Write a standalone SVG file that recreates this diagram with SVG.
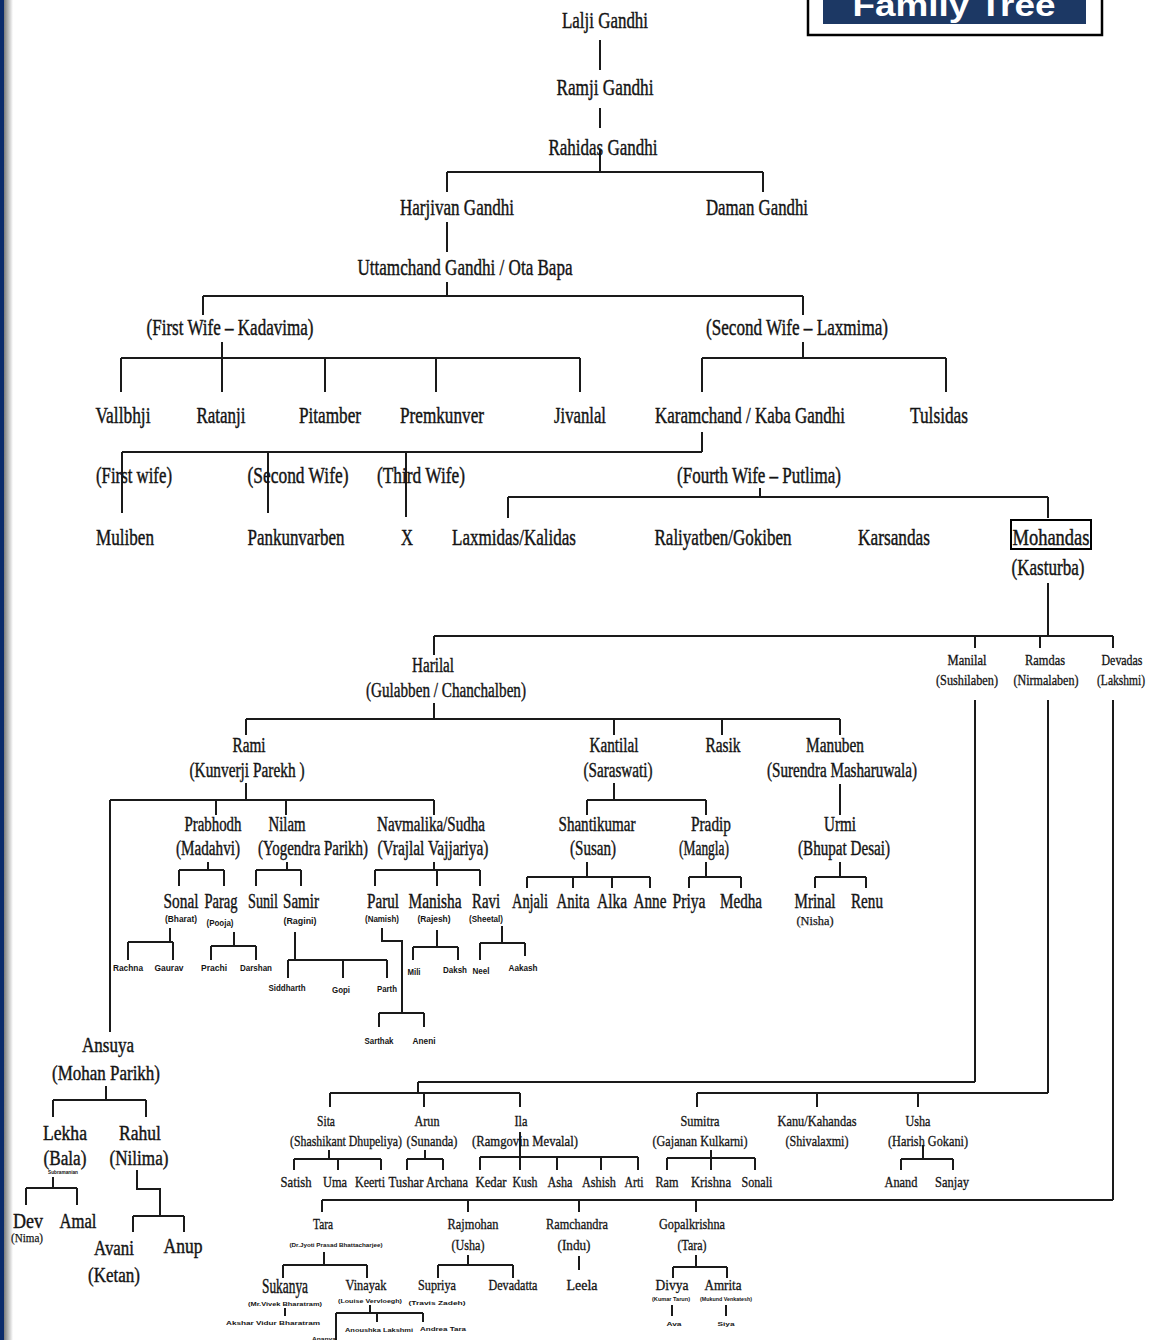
<svg xmlns="http://www.w3.org/2000/svg" width="1151" height="1340" viewBox="0 0 1151 1340">
<defs>
<linearGradient id="sh" x1="0" y1="0" x2="1" y2="0"><stop offset="0" stop-color="#7a7a7a"/><stop offset="1" stop-color="#ffffff"/></linearGradient>
</defs>
<style>
text{font-family:"Liberation Serif","Times New Roman",serif;fill:#141414;text-anchor:middle}
.t1{font-size:24px;stroke:#141414;stroke-width:0.45}
.t2{font-size:20px;stroke:#141414;stroke-width:0.4}
.t3{font-size:15px;stroke:#141414;stroke-width:0.3}
.t4{font-size:13px;stroke:#141414;stroke-width:0.25}
.s{font-family:"Liberation Sans",Arial,sans-serif;font-weight:bold;font-size:9px}
.xs{font-family:"Liberation Sans",Arial,sans-serif;font-weight:bold;font-size:6px}
.ln path{fill:none;stroke:#1a1a1a;stroke-width:2}
.title{font-family:"Liberation Sans",Arial,sans-serif;font-weight:bold;font-size:32px;fill:#ffffff}
</style>
<rect width="1151" height="1340" fill="#ffffff"/>
<rect x="0" y="0" width="4" height="1340" fill="#0b2a6a"/>
<rect x="4" y="0" width="9" height="1340" fill="url(#sh)"/>
<g id="title">
<rect x="808" y="-10" width="294" height="45" fill="#ffffff" stroke="#000" stroke-width="2.5"/>
<rect x="823" y="-6" width="263" height="30" fill="#1c3864"/>
<text class="title" x="954" y="16" textLength="203" lengthAdjust="spacingAndGlyphs">Family Tree</text>
</g>
<g id="connectors" class="ln">
<path d="M600 40V70M600 108V128M600 150V172M447 172H763M447 172V192M763 172V192M447 222V252M447 282V296M203 296H803M203 296V315M803 296V315"/>
<path d="M222 342V358M121 358H580M121 358V392M222 358V392M325 358V392M436 358V392M580 358V392M803 342V358M702 358H946M702 358V392M946 358V392"/>
<path d="M702 432V452M122 452H702M122 452V513M268 452V513M406 452V517M760 488V497M508 497H1048M508 497V518M1048 497V518"/>
<path d="M1048 583V636M434 636H1113M434 636V655M975 636V648M1040 636V648M1113 636V648M975 700V1082M1048 700V1093M1113 700V1200"/>
<path d="M434 703V719M246 719H840M246 719V735M614 719V735M722 719V735M840 719V735M246 783V800M110 800H434M110 800V1032M216 800V815M286 800V815M434 800V815M614 783V800M587 800H706M587 800V815M706 800V815M840 784V815"/>
<path d="M208 862V870M179 870H224M179 870V886M224 870V886M287 862V870M256 870H301M256 870V886M301 870V886M434 862V870M375 870H480M375 870V886M437 870V886M480 870V886"/>
<path d="M587 862V877M527 877H650M527 877V888M573 877V888M612 877V888M650 877V888M706 862V877M689 877H741M689 877V888M741 877V888M840 862V877M815 877H866M815 877V888M866 877V888"/>
<path d="M170 928V942M128 942H173M128 942V960M173 942V960M234 932V946M211 946H256M211 946V960M256 946V960M295 932V960M288 960H387M288 960V978M343 960V978M387 960V978"/>
<path d="M382 928V941H402V1013M379 1013H424M379 1013V1027M424 1013V1027M437 930V947M413 947H458M413 947V960M458 947V960M502 926V943M480 943H525M480 943V960M525 943V956"/>
<path d="M106 1086V1100M53 1100H146M53 1100V1117M146 1100V1117M53 1177V1188M26 1188H77M26 1188V1205M77 1188V1205M137 1170V1189H160V1216M133 1216H184M133 1216V1232M184 1216V1232"/>
<path d="M418 1082H975M418 1082V1093M330 1093H520M330 1093V1107M424 1093V1107M520 1093V1107M329 1150V1159M294 1159H381M294 1159V1170M338 1159V1170M381 1159V1170M425 1150V1159M407 1159H443M407 1159V1170M443 1159V1170M520 1132V1157M480 1157H638M480 1157V1170M520 1157V1170M557 1157V1170M601 1157V1170M638 1157V1170"/>
<path d="M697 1093H1048M697 1093V1107M817 1093V1107M918 1093V1107M711 1150V1158M667 1158H755M667 1158V1170M711 1158V1170M755 1158V1170M923 1145V1159M901 1159H953M901 1159V1170M953 1159V1170"/>
<path d="M322 1200H1113M322 1200V1212M468 1200V1212M579 1200V1212M696 1200V1212M324 1252V1265M283 1265H367M283 1265V1278M367 1265V1278M468 1255V1265M438 1265H513M438 1265V1278M513 1265V1278M579 1256V1270M696 1255V1267M673 1267H727M673 1267V1278M727 1267V1278"/>
<path d="M285 1308V1316M370 1305V1313M336 1313H423M336 1313V1340M377 1313V1322M423 1313V1322M672 1305V1316M726 1305V1316"/>
</g>
<g id="n-lalji"><text class="t1" x="605" y="28" textLength="86" lengthAdjust="spacingAndGlyphs">Lalji Gandhi</text></g>
<g id="n-ramji"><text class="t1" x="605" y="95" textLength="97" lengthAdjust="spacingAndGlyphs">Ramji Gandhi</text></g>
<g id="n-rahidas"><text class="t1" x="603" y="155" textLength="109" lengthAdjust="spacingAndGlyphs">Rahidas Gandhi</text></g>
<g id="n-harjivan"><text class="t1" x="457" y="215" textLength="114" lengthAdjust="spacingAndGlyphs">Harjivan Gandhi</text></g>
<g id="n-daman"><text class="t1" x="757" y="215" textLength="102" lengthAdjust="spacingAndGlyphs">Daman Gandhi</text></g>
<g id="n-uttamchand"><text class="t1" x="465" y="275" textLength="215" lengthAdjust="spacingAndGlyphs">Uttamchand Gandhi / Ota Bapa</text></g>
<g id="n-kadavima"><text class="t1" x="230" y="335" textLength="167" lengthAdjust="spacingAndGlyphs">(First Wife – Kadavima)</text></g>
<g id="n-laxmima"><text class="t1" x="797" y="335" textLength="182" lengthAdjust="spacingAndGlyphs">(Second Wife – Laxmima)</text></g>
<g id="n-vallbhji"><text class="t1" x="123" y="423" textLength="55" lengthAdjust="spacingAndGlyphs">Vallbhji</text></g>
<g id="n-ratanji"><text class="t1" x="221" y="423" textLength="49" lengthAdjust="spacingAndGlyphs">Ratanji</text></g>
<g id="n-pitamber"><text class="t1" x="330" y="423" textLength="62" lengthAdjust="spacingAndGlyphs">Pitamber</text></g>
<g id="n-premkunver"><text class="t1" x="442" y="423" textLength="84" lengthAdjust="spacingAndGlyphs">Premkunver</text></g>
<g id="n-jivanlal"><text class="t1" x="580" y="423" textLength="52" lengthAdjust="spacingAndGlyphs">Jivanlal</text></g>
<g id="n-karamchand"><text class="t1" x="750" y="423" textLength="190" lengthAdjust="spacingAndGlyphs">Karamchand / Kaba Gandhi</text></g>
<g id="n-tulsidas"><text class="t1" x="939" y="423" textLength="58" lengthAdjust="spacingAndGlyphs">Tulsidas</text></g>
<g id="n-wife1"><text class="t1" x="134" y="483" textLength="76" lengthAdjust="spacingAndGlyphs">(First wife)</text></g>
<g id="n-wife2"><text class="t1" x="298" y="483" textLength="101" lengthAdjust="spacingAndGlyphs">(Second Wife)</text></g>
<g id="n-wife3"><text class="t1" x="421" y="483" textLength="88" lengthAdjust="spacingAndGlyphs">(Third Wife)</text></g>
<g id="n-putlima"><text class="t1" x="759" y="483" textLength="164" lengthAdjust="spacingAndGlyphs">(Fourth Wife – Putlima)</text></g>
<g id="n-muliben"><text class="t1" x="125" y="545" textLength="58" lengthAdjust="spacingAndGlyphs">Muliben</text></g>
<g id="n-pankunvarben"><text class="t1" x="296" y="545" textLength="97" lengthAdjust="spacingAndGlyphs">Pankunvarben</text></g>
<g id="n-x"><text class="t1" x="407" y="545" textLength="12" lengthAdjust="spacingAndGlyphs">X</text></g>
<g id="n-laxmidas"><text class="t1" x="514" y="545" textLength="124" lengthAdjust="spacingAndGlyphs">Laxmidas/Kalidas</text></g>
<g id="n-raliyatben"><text class="t1" x="723" y="545" textLength="137" lengthAdjust="spacingAndGlyphs">Raliyatben/Gokiben</text></g>
<g id="n-karsandas"><text class="t1" x="894" y="545" textLength="72" lengthAdjust="spacingAndGlyphs">Karsandas</text></g>
<g id="n-mohandas"><rect x="1011" y="520" width="80" height="29" fill="none" stroke="#000" stroke-width="2"/><text class="t1" x="1051" y="545" textLength="77" lengthAdjust="spacingAndGlyphs">Mohandas</text><text class="t1" x="1048" y="575" textLength="73" lengthAdjust="spacingAndGlyphs">(Kasturba)</text></g>
<g id="n-harilal"><text class="t2" x="433" y="672" textLength="42" lengthAdjust="spacingAndGlyphs">Harilal</text><text class="t2" x="446" y="697" textLength="160" lengthAdjust="spacingAndGlyphs">(Gulabben / Chanchalben)</text></g>
<g id="n-manilal"><text class="t3" x="967" y="665" textLength="39" lengthAdjust="spacingAndGlyphs">Manilal</text><text class="t3" x="967" y="685" textLength="62" lengthAdjust="spacingAndGlyphs">(Sushilaben)</text></g>
<g id="n-ramdas"><text class="t3" x="1045" y="665" textLength="40" lengthAdjust="spacingAndGlyphs">Ramdas</text><text class="t3" x="1046" y="685" textLength="65" lengthAdjust="spacingAndGlyphs">(Nirmalaben)</text></g>
<g id="n-devadas"><text class="t3" x="1122" y="665" textLength="41" lengthAdjust="spacingAndGlyphs">Devadas</text><text class="t3" x="1121" y="685" textLength="48" lengthAdjust="spacingAndGlyphs">(Lakshmi)</text></g>
<g id="n-rami"><text class="t2" x="249" y="752" textLength="33" lengthAdjust="spacingAndGlyphs">Rami</text><text class="t2" x="247" y="777" textLength="115" lengthAdjust="spacingAndGlyphs">(Kunverji Parekh )</text></g>
<g id="n-kantilal"><text class="t2" x="614" y="752" textLength="49" lengthAdjust="spacingAndGlyphs">Kantilal</text><text class="t2" x="618" y="777" textLength="69" lengthAdjust="spacingAndGlyphs">(Saraswati)</text></g>
<g id="n-rasik"><text class="t2" x="723" y="752" textLength="35" lengthAdjust="spacingAndGlyphs">Rasik</text></g>
<g id="n-manuben"><text class="t2" x="835" y="752" textLength="58" lengthAdjust="spacingAndGlyphs">Manuben</text><text class="t2" x="842" y="777" textLength="150" lengthAdjust="spacingAndGlyphs">(Surendra Masharuwala)</text></g>
<g id="n-prabhodh"><text class="t2" x="213" y="831" textLength="57" lengthAdjust="spacingAndGlyphs">Prabhodh</text><text class="t2" x="208" y="855" textLength="64" lengthAdjust="spacingAndGlyphs">(Madahvi)</text></g>
<g id="n-nilam"><text class="t2" x="287" y="831" textLength="37" lengthAdjust="spacingAndGlyphs">Nilam</text><text class="t2" x="313" y="855" textLength="110" lengthAdjust="spacingAndGlyphs">(Yogendra Parikh)</text></g>
<g id="n-navmalika"><text class="t2" x="431" y="831" textLength="108" lengthAdjust="spacingAndGlyphs">Navmalika/Sudha</text><text class="t2" x="433" y="855" textLength="111" lengthAdjust="spacingAndGlyphs">(Vrajlal Vajjariya)</text></g>
<g id="n-shantikumar"><text class="t2" x="597" y="831" textLength="77" lengthAdjust="spacingAndGlyphs">Shantikumar</text><text class="t2" x="593" y="855" textLength="46" lengthAdjust="spacingAndGlyphs">(Susan)</text></g>
<g id="n-pradip"><text class="t2" x="711" y="831" textLength="40" lengthAdjust="spacingAndGlyphs">Pradip</text><text class="t2" x="704" y="855" textLength="50" lengthAdjust="spacingAndGlyphs">(Mangla)</text></g>
<g id="n-urmi"><text class="t2" x="840" y="831" textLength="32" lengthAdjust="spacingAndGlyphs">Urmi</text><text class="t2" x="844" y="855" textLength="92" lengthAdjust="spacingAndGlyphs">(Bhupat Desai)</text></g>
<g id="n-sonal"><text class="t2" x="181" y="908" textLength="35" lengthAdjust="spacingAndGlyphs">Sonal</text><text class="s" x="181" y="922" textLength="32" lengthAdjust="spacingAndGlyphs">(Bharat)</text></g>
<g id="n-parag"><text class="t2" x="221" y="908" textLength="33" lengthAdjust="spacingAndGlyphs">Parag</text><text class="s" x="220" y="926" textLength="27" lengthAdjust="spacingAndGlyphs">(Pooja)</text></g>
<g id="n-sunil"><text class="t2" x="263" y="908" textLength="30" lengthAdjust="spacingAndGlyphs">Sunil</text></g>
<g id="n-samir"><text class="t2" x="301" y="908" textLength="36" lengthAdjust="spacingAndGlyphs">Samir</text><text class="s" x="300" y="924" textLength="33" lengthAdjust="spacingAndGlyphs">(Ragini)</text></g>
<g id="n-parul"><text class="t2" x="383" y="908" textLength="32" lengthAdjust="spacingAndGlyphs">Parul</text><text class="s" x="382" y="922" textLength="34" lengthAdjust="spacingAndGlyphs">(Namish)</text></g>
<g id="n-manisha"><text class="t2" x="435" y="908" textLength="53" lengthAdjust="spacingAndGlyphs">Manisha</text><text class="s" x="434" y="922" textLength="33" lengthAdjust="spacingAndGlyphs">(Rajesh)</text></g>
<g id="n-ravi"><text class="t2" x="486" y="908" textLength="28" lengthAdjust="spacingAndGlyphs">Ravi</text><text class="s" x="486" y="922" textLength="34" lengthAdjust="spacingAndGlyphs">(Sheetal)</text></g>
<g id="n-anjali"><text class="t2" x="530" y="908" textLength="36" lengthAdjust="spacingAndGlyphs">Anjali</text></g>
<g id="n-anita"><text class="t2" x="573" y="908" textLength="33" lengthAdjust="spacingAndGlyphs">Anita</text></g>
<g id="n-alka"><text class="t2" x="612" y="908" textLength="30" lengthAdjust="spacingAndGlyphs">Alka</text></g>
<g id="n-anne"><text class="t2" x="650" y="908" textLength="33" lengthAdjust="spacingAndGlyphs">Anne</text></g>
<g id="n-priya"><text class="t2" x="689" y="908" textLength="33" lengthAdjust="spacingAndGlyphs">Priya</text></g>
<g id="n-medha"><text class="t2" x="741" y="908" textLength="42" lengthAdjust="spacingAndGlyphs">Medha</text></g>
<g id="n-mrinal"><text class="t2" x="815" y="908" textLength="41" lengthAdjust="spacingAndGlyphs">Mrinal</text><text class="t4" x="815" y="925" textLength="37" lengthAdjust="spacingAndGlyphs">(Nisha)</text></g>
<g id="n-renu"><text class="t2" x="867" y="908" textLength="32" lengthAdjust="spacingAndGlyphs">Renu</text></g>
<g id="n-rachna"><text class="s" x="128" y="971" textLength="30" lengthAdjust="spacingAndGlyphs">Rachna</text></g>
<g id="n-gaurav"><text class="s" x="169" y="971" textLength="29" lengthAdjust="spacingAndGlyphs">Gaurav</text></g>
<g id="n-prachi"><text class="s" x="214" y="971" textLength="26" lengthAdjust="spacingAndGlyphs">Prachi</text></g>
<g id="n-darshan"><text class="s" x="256" y="971" textLength="32" lengthAdjust="spacingAndGlyphs">Darshan</text></g>
<g id="n-siddharth"><text class="s" x="287" y="991" textLength="37" lengthAdjust="spacingAndGlyphs">Siddharth</text></g>
<g id="n-gopi"><text class="s" x="341" y="993" textLength="18" lengthAdjust="spacingAndGlyphs">Gopi</text></g>
<g id="n-parth"><text class="s" x="387" y="992" textLength="20" lengthAdjust="spacingAndGlyphs">Parth</text></g>
<g id="n-mili"><text class="s" x="414" y="975" textLength="13" lengthAdjust="spacingAndGlyphs">Mili</text></g>
<g id="n-daksh"><text class="s" x="455" y="973" textLength="24" lengthAdjust="spacingAndGlyphs">Daksh</text></g>
<g id="n-neel"><text class="s" x="481" y="974" textLength="17" lengthAdjust="spacingAndGlyphs">Neel</text></g>
<g id="n-aakash"><text class="s" x="523" y="971" textLength="29" lengthAdjust="spacingAndGlyphs">Aakash</text></g>
<g id="n-sarthak"><text class="s" x="379" y="1044" textLength="29" lengthAdjust="spacingAndGlyphs">Sarthak</text></g>
<g id="n-aneni"><text class="s" x="424" y="1044" textLength="23" lengthAdjust="spacingAndGlyphs">Aneni</text></g>
<g id="n-ansuya"><text class="t2" x="108" y="1052" textLength="52" lengthAdjust="spacingAndGlyphs">Ansuya</text><text class="t2" x="106" y="1080" textLength="108" lengthAdjust="spacingAndGlyphs">(Mohan Parikh)</text></g>
<g id="n-lekha"><text class="t2" x="65" y="1140" textLength="44" lengthAdjust="spacingAndGlyphs">Lekha</text><text class="t2" x="65" y="1165" textLength="43" lengthAdjust="spacingAndGlyphs">(Bala)</text><text class="xs" x="63" y="1174" textLength="30" lengthAdjust="spacingAndGlyphs">Subramanian</text></g>
<g id="n-rahul"><text class="t2" x="140" y="1140" textLength="42" lengthAdjust="spacingAndGlyphs">Rahul</text><text class="t2" x="139" y="1165" textLength="59" lengthAdjust="spacingAndGlyphs">(Nilima)</text></g>
<g id="n-dev"><text class="t2" x="28" y="1228" textLength="30" lengthAdjust="spacingAndGlyphs">Dev</text><text class="t4" x="27" y="1242" textLength="32" lengthAdjust="spacingAndGlyphs">(Nima)</text></g>
<g id="n-amal"><text class="t2" x="78" y="1228" textLength="37" lengthAdjust="spacingAndGlyphs">Amal</text></g>
<g id="n-avani"><text class="t2" x="114" y="1255" textLength="40" lengthAdjust="spacingAndGlyphs">Avani</text><text class="t2" x="114" y="1282" textLength="52" lengthAdjust="spacingAndGlyphs">(Ketan)</text></g>
<g id="n-anup"><text class="t2" x="183" y="1253" textLength="39" lengthAdjust="spacingAndGlyphs">Anup</text></g>
<g id="n-sita"><text class="t3" x="326" y="1126" textLength="18" lengthAdjust="spacingAndGlyphs">Sita</text><text class="t3" x="346" y="1146" textLength="112" lengthAdjust="spacingAndGlyphs">(Shashikant Dhupeliya)</text></g>
<g id="n-arun"><text class="t3" x="427" y="1126" textLength="25" lengthAdjust="spacingAndGlyphs">Arun</text><text class="t3" x="432" y="1146" textLength="51" lengthAdjust="spacingAndGlyphs">(Sunanda)</text></g>
<g id="n-ila"><text class="t3" x="521" y="1126" textLength="13" lengthAdjust="spacingAndGlyphs">Ila</text><text class="t3" x="525" y="1146" textLength="106" lengthAdjust="spacingAndGlyphs">(Ramgovin Mevalal)</text></g>
<g id="n-sumitra"><text class="t3" x="700" y="1126" textLength="39" lengthAdjust="spacingAndGlyphs">Sumitra</text><text class="t3" x="700" y="1146" textLength="95" lengthAdjust="spacingAndGlyphs">(Gajanan Kulkarni)</text></g>
<g id="n-kanu"><text class="t3" x="817" y="1126" textLength="79" lengthAdjust="spacingAndGlyphs">Kanu/Kahandas</text><text class="t3" x="817" y="1146" textLength="63" lengthAdjust="spacingAndGlyphs">(Shivalaxmi)</text></g>
<g id="n-usha"><text class="t3" x="918" y="1126" textLength="25" lengthAdjust="spacingAndGlyphs">Usha</text><text class="t3" x="928" y="1146" textLength="80" lengthAdjust="spacingAndGlyphs">(Harish Gokani)</text></g>
<g id="n-satish"><text class="t3" x="296" y="1187" textLength="31" lengthAdjust="spacingAndGlyphs">Satish</text></g>
<g id="n-uma"><text class="t3" x="335" y="1187" textLength="24" lengthAdjust="spacingAndGlyphs">Uma</text></g>
<g id="n-keerti"><text class="t3" x="370" y="1187" textLength="30" lengthAdjust="spacingAndGlyphs">Keerti</text></g>
<g id="n-tushar"><text class="t3" x="406" y="1187" textLength="35" lengthAdjust="spacingAndGlyphs">Tushar</text></g>
<g id="n-archana"><text class="t3" x="447" y="1187" textLength="42" lengthAdjust="spacingAndGlyphs">Archana</text></g>
<g id="n-kedar"><text class="t3" x="491" y="1187" textLength="31" lengthAdjust="spacingAndGlyphs">Kedar</text></g>
<g id="n-kush"><text class="t3" x="525" y="1187" textLength="25" lengthAdjust="spacingAndGlyphs">Kush</text></g>
<g id="n-asha"><text class="t3" x="560" y="1187" textLength="25" lengthAdjust="spacingAndGlyphs">Asha</text></g>
<g id="n-ashish"><text class="t3" x="599" y="1187" textLength="34" lengthAdjust="spacingAndGlyphs">Ashish</text></g>
<g id="n-arti"><text class="t3" x="634" y="1187" textLength="19" lengthAdjust="spacingAndGlyphs">Arti</text></g>
<g id="n-ram"><text class="t3" x="667" y="1187" textLength="23" lengthAdjust="spacingAndGlyphs">Ram</text></g>
<g id="n-krishna"><text class="t3" x="711" y="1187" textLength="40" lengthAdjust="spacingAndGlyphs">Krishna</text></g>
<g id="n-sonali"><text class="t3" x="757" y="1187" textLength="31" lengthAdjust="spacingAndGlyphs">Sonali</text></g>
<g id="n-anand"><text class="t3" x="901" y="1187" textLength="33" lengthAdjust="spacingAndGlyphs">Anand</text></g>
<g id="n-sanjay"><text class="t3" x="952" y="1187" textLength="34" lengthAdjust="spacingAndGlyphs">Sanjay</text></g>
<g id="n-tara"><text class="t3" x="323" y="1229" textLength="20" lengthAdjust="spacingAndGlyphs">Tara</text><text class="xs" x="336" y="1247" textLength="93" lengthAdjust="spacingAndGlyphs">(Dr.Jyoti Prasad Bhattacharjee)</text></g>
<g id="n-rajmohan"><text class="t3" x="473" y="1229" textLength="51" lengthAdjust="spacingAndGlyphs">Rajmohan</text><text class="t3" x="468" y="1250" textLength="33" lengthAdjust="spacingAndGlyphs">(Usha)</text></g>
<g id="n-ramchandra"><text class="t3" x="577" y="1229" textLength="62" lengthAdjust="spacingAndGlyphs">Ramchandra</text><text class="t3" x="574" y="1250" textLength="33" lengthAdjust="spacingAndGlyphs">(Indu)</text></g>
<g id="n-gopalkrishna"><text class="t3" x="692" y="1229" textLength="66" lengthAdjust="spacingAndGlyphs">Gopalkrishna</text><text class="t3" x="692" y="1250" textLength="29" lengthAdjust="spacingAndGlyphs">(Tara)</text></g>
<g id="n-sukanya"><text class="t2" x="285" y="1293" textLength="46" lengthAdjust="spacingAndGlyphs">Sukanya</text><text class="xs" x="285" y="1306" textLength="74" lengthAdjust="spacingAndGlyphs">(Mr.Vivek Bharatram)</text></g>
<g id="n-akshar"><text class="xs" x="273" y="1325" textLength="94" lengthAdjust="spacingAndGlyphs">Akshar Vidur Bharatram</text></g>
<g id="n-vinayak"><text class="t3" x="366" y="1290" textLength="41" lengthAdjust="spacingAndGlyphs">Vinayak</text><text class="xs" x="370" y="1303" textLength="64" lengthAdjust="spacingAndGlyphs">(Louise Vervloegh)</text></g>
<g id="n-supriya"><text class="t3" x="437" y="1290" textLength="38" lengthAdjust="spacingAndGlyphs">Supriya</text><text class="xs" x="437" y="1305" textLength="57" lengthAdjust="spacingAndGlyphs">(Travis Zadeh)</text></g>
<g id="n-devadatta"><text class="t3" x="513" y="1290" textLength="49" lengthAdjust="spacingAndGlyphs">Devadatta</text></g>
<g id="n-leela"><text class="t3" x="582" y="1290" textLength="31" lengthAdjust="spacingAndGlyphs">Leela</text></g>
<g id="n-divya"><text class="t3" x="672" y="1290" textLength="33" lengthAdjust="spacingAndGlyphs">Divya</text><text class="xs" x="671" y="1301" textLength="38" lengthAdjust="spacingAndGlyphs">(Kumar Tarun)</text></g>
<g id="n-amrita"><text class="t3" x="723" y="1290" textLength="37" lengthAdjust="spacingAndGlyphs">Amrita</text><text class="xs" x="726" y="1301" textLength="52" lengthAdjust="spacingAndGlyphs">(Mukund Venkatesh)</text></g>
<g id="n-ava"><text class="xs" x="674" y="1326" textLength="15" lengthAdjust="spacingAndGlyphs">Ava</text></g>
<g id="n-siya"><text class="xs" x="726" y="1326" textLength="17" lengthAdjust="spacingAndGlyphs">Siya</text></g>
<g id="n-anoushka"><text class="xs" x="379" y="1332" textLength="68" lengthAdjust="spacingAndGlyphs">Anoushka Lakshmi</text></g>
<g id="n-andrea"><text class="xs" x="443" y="1331" textLength="46" lengthAdjust="spacingAndGlyphs">Andrea Tara</text></g>
<g id="n-ananya"><text class="xs" x="324" y="1341" textLength="24" lengthAdjust="spacingAndGlyphs">Ananya</text></g>
</svg>
